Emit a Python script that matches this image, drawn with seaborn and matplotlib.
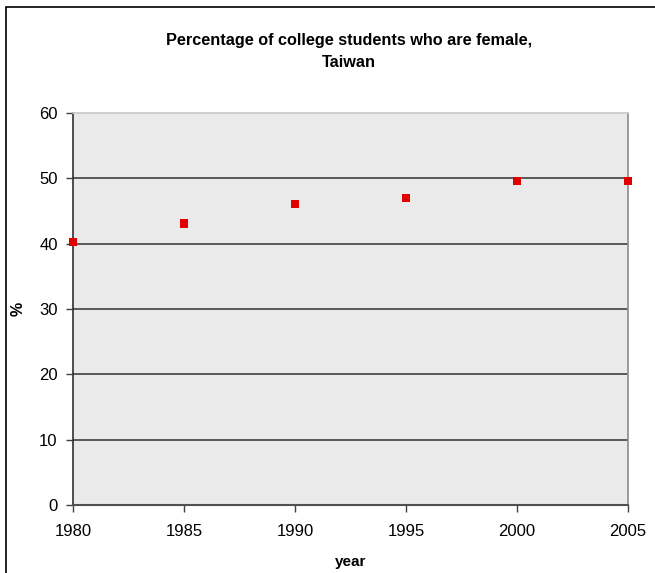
import matplotlib
matplotlib.use("Agg")
import matplotlib.pyplot as plt
import matplotlib.patches as patches
import seaborn as sns
import pandas as pd

years = [1980, 1985, 1990, 1995, 2000, 2005]
female_pct = [40.3, 43.1, 46.1, 47.0, 49.6, 49.6]
x_ticks = [1980, 1985, 1990, 1995, 2000, 2005]
y_ticks = [0, 10, 20, 30, 40, 50, 60]

df = pd.DataFrame({"year": years, "pct": female_pct})

sns.set_theme(style="white")
plt.rcParams["font.family"] = ["Liberation Sans", "DejaVu Sans"]
plt.rcParams["text.color"] = "black"
plt.rcParams["axes.labelcolor"] = "black"

fig = plt.figure(figsize=(6.55, 5.73), dpi=100)
ax = fig.add_axes([73 / 655, 1 - 505 / 573, 555 / 655, 392 / 573])
ax.set_facecolor("#EAEAEA")

sns.scatterplot(data=df, x="year", y="pct", marker="s", s=36, color="#E00000",
                edgecolor="none", ax=ax, clip_on=False, zorder=5)

ax.set_xlim(1980, 2005)
ax.set_ylim(0, 60)
ax.set_xticks(x_ticks)
ax.set_yticks(y_ticks)
ax.tick_params(axis="both", which="major", direction="out", length=5, width=1,
               color="#404040", labelsize=12, labelcolor="black",
               bottom=True, left=True)
ax.tick_params(axis="x", pad=9)
ax.tick_params(axis="y", pad=6)

for yv in y_ticks[1:-1]:
    ax.axhline(yv, color="#404040", linewidth=1.2, zorder=1)

ax.spines["left"].set_color("#303030")
ax.spines["bottom"].set_color("#505050")
ax.spines["left"].set_linewidth(1.2)
ax.spines["bottom"].set_linewidth(1.5)
ax.spines["right"].set_color("#909090")
ax.spines["top"].set_color("#C8C8C8")

ax.set_xlabel("year", fontsize=11, fontweight="bold", color="black")
ax.set_ylabel("%", fontsize=11.5, fontweight="bold", color="black")
ax.xaxis.set_label_coords(0.5, -0.128)
ax.yaxis.set_label_coords(-0.085, 0.5)

fig.text(349 / 655, 1 - 51.5 / 573,
         "Percentage of college students who are female,\nTaiwan",
         ha="center", va="center", fontsize=11.7, fontweight="bold",
         linespacing=1.65, color="black")

border = patches.Rectangle((6 / 655, -0.02), 1.05, 1 - 7 / 573 + 0.02,
                           transform=fig.transFigure, fill=False,
                           edgecolor="black", linewidth=1.2)
fig.patches.append(border)

fig.savefig("out.png", dpi=100)
